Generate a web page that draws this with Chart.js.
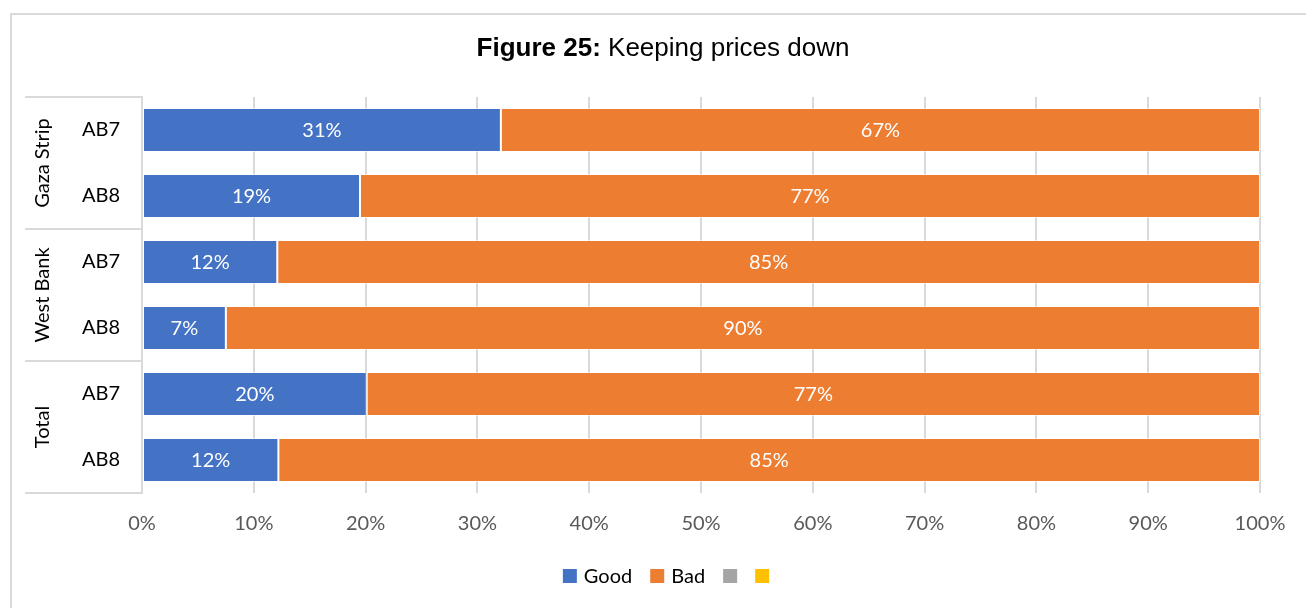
<!DOCTYPE html>
<html>
<head>
<meta charset="utf-8">
<script src="https://cdn.jsdelivr.net/npm/chart.js@4.4.0/dist/chart.umd.min.js"></script>
<style>
html, body { margin: 0; padding: 0; background: #fff; }
#wrap { position: relative; width: 1306px; height: 608px; overflow: hidden; }
#frame { position: absolute; left: 10px; top: 13px; width: 1400px; height: 700px; border: 2px solid #d9d9d9; box-sizing: border-box; }
#myChart { position: absolute; left: 0; top: 0; }
</style>
</head>
<body>
<div id="wrap">
  <div id="frame"></div>
  <canvas id="myChart" width="1306" height="608"></canvas>
</div>
<script>
// data
var groups = ["Gaza Strip", "West Bank", "Total"];
var labels = ["AB7", "AB8", "AB7", "AB8", "AB7", "AB8"];
var good = [32.1, 19.5, 12.1, 7.5, 20.1, 12.2];
var bad = [67.9, 80.5, 87.9, 92.5, 79.9, 87.8];
var goodText = ["31%", "19%", "12%", "7%", "20%", "12%"];
var badText = ["67%", "77%", "85%", "90%", "77%", "85%"];
var other1 = [0, 0, 0, 0, 0, 0];
var other2 = [0, 0, 0, 0, 0, 0];
var xTicks = [0, 10, 20, 30, 40, 50, 60, 70, 80, 90, 100];

var FONT = "Lato, 'Open Sans', sans-serif";
var TITLE_FONT = "26px 'Liberation Sans', Arial, sans-serif";

var titlePlugin = {
  id: "titlePlugin",
  afterDraw: function (chart) {
    var ctx = chart.ctx;
    ctx.save();
    var boldPart = "Figure 25:";
    var normPart = " Keeping prices down";
    ctx.font = "bold " + TITLE_FONT;
    var w1 = ctx.measureText(boldPart).width;
    ctx.font = TITLE_FONT;
    var w2 = ctx.measureText(normPart).width;
    var x = 663 - (w1 + w2) / 2;
    ctx.textBaseline = "middle";
    ctx.fillStyle = "#000";
    ctx.font = "bold " + TITLE_FONT;
    ctx.fillText(boldPart, x, 49);
    ctx.font = TITLE_FONT;
    ctx.fillText(normPart, x + w1, 49);
    ctx.restore();
  }
};

var groupPlugin = {
  id: "groupPlugin",
  afterDraw: function (chart) {
    var ctx = chart.ctx;
    var y = chart.scales.y;
    var area = chart.chartArea;
    var step = (area.bottom - area.top) / groups.length;
    ctx.save();
    ctx.strokeStyle = "#d9d9d9";
    ctx.lineWidth = 2;
    for (var i = 0; i <= groups.length; i++) {
      var yy = Math.round(area.top + i * step);
      ctx.beginPath();
      ctx.moveTo(25, yy);
      ctx.lineTo(area.left, yy);
      ctx.stroke();
    }
    ctx.fillStyle = "#000";
    ctx.font = "20px " + FONT;
    ctx.textAlign = "center";
    ctx.textBaseline = "middle";
    for (var g = 0; g < groups.length; g++) {
      var cy = (y.getPixelForValue(g * 2) + y.getPixelForValue(g * 2 + 1)) / 2;
      ctx.save();
      ctx.translate(43, cy);
      ctx.rotate(-Math.PI / 2);
      ctx.fillText(groups[g], 0, 0);
      ctx.restore();
    }
    ctx.restore();
  }
};

var barLabelPlugin = {
  id: "barLabelPlugin",
  afterDatasetsDraw: function (chart) {
    var ctx = chart.ctx;
    var texts = [goodText, badText];
    ctx.save();
    ctx.fillStyle = "#fff";
    ctx.font = "20px " + FONT;
    ctx.textAlign = "center";
    ctx.textBaseline = "middle";
    for (var d = 0; d < 2; d++) {
      var meta = chart.getDatasetMeta(d);
      meta.data.forEach(function (bar, i) {
        ctx.fillText(texts[d][i], (bar.x + bar.base) / 2, bar.y + 1);
      });
    }
    ctx.restore();
  }
};

var legendPlugin = {
  id: "legendPlugin",
  afterDraw: function (chart) {
    var ctx = chart.ctx;
    var sets = chart.data.datasets;
    ctx.save();
    ctx.font = "20px " + FONT;
    ctx.textBaseline = "middle";
    var widths = sets.map(function (s) {
      return 14 + (s.label ? 7 + ctx.measureText(s.label).width : 0);
    });
    var gap = 18;
    var total = widths.reduce(function (a, b) { return a + b; }, 0) + gap * (sets.length - 1);
    var x = 666 - total / 2;
    sets.forEach(function (s, i) {
      ctx.fillStyle = s.backgroundColor;
      ctx.fillRect(x, 569, 14, 14);
      if (s.label) {
        ctx.fillStyle = "#000";
        ctx.fillText(s.label, x + 21, 577);
      }
      x += widths[i] + gap;
    });
    ctx.restore();
  }
};

function makeSet(label, data, color) {
  return {
    label: label,
    data: data,
    backgroundColor: color,
    borderColor: "rgba(255,255,255,0.55)",
    borderWidth: 1,
    borderSkipped: false,
    barPercentage: 0.667,
    categoryPercentage: 1.0
  };
}

var ctx = document.getElementById("myChart").getContext("2d");
var chart = new Chart(ctx, {
  type: "bar",
  data: {
    labels: labels,
    datasets: [
      makeSet("Good", good, "#4472C4"),
      makeSet("Bad", bad, "#ED7D31"),
      makeSet("", other1, "#A5A5A5"),
      makeSet("", other2, "#FFC000")
    ]
  },
  options: {
    indexAxis: "y",
    responsive: false,
    animation: false,
    layout: { padding: { top: 97, right: 46, bottom: 75, left: 0 } },
    plugins: {
      legend: { display: false },
      title: { display: false },
      tooltip: { enabled: false }
    },
    scales: {
      x: {
        stacked: true,
        min: 0,
        max: 100,
        afterBuildTicks: function (scale) {
          scale.ticks = xTicks.map(function (v) { return { value: v }; });
        },
        afterFit: function (scale) { scale.height = 40; },
        grid: { color: "#d9d9d9", lineWidth: 2, drawTicks: false },
        border: { display: false },
        ticks: {
          padding: 19,
          color: "#595959",
          font: { family: FONT, size: 20 },
          maxRotation: 0,
          callback: function (v) { return v + "%"; }
        }
      },
      y: {
        stacked: true,
        afterFit: function (scale) { scale.width = 142; },
        grid: { display: false, drawTicks: false },
        border: { display: true, color: "#d9d9d9", width: 2 },
        ticks: {
          padding: 22,
          color: "#000",
          font: { family: FONT, size: 20 }
        }
      }
    }
  },
  plugins: [titlePlugin, groupPlugin, barLabelPlugin, legendPlugin]
});
</script>
</body>
</html>
